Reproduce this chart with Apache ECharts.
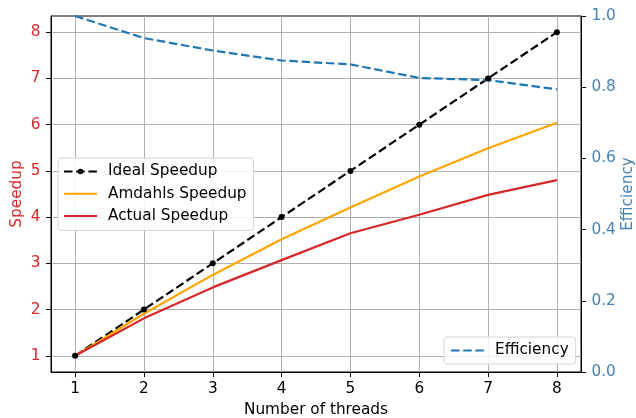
<!DOCTYPE html>
<html>
<head>
<meta charset="utf-8">
<script src="https://cdn.jsdelivr.net/npm/echarts@6/dist/echarts.min.js"></script>
<style>
  html, body { margin: 0; padding: 0; background: #fff; }
  #chart { width: 636px; height: 418px; }
</style>
</head>
<body>
<div id="chart"></div>
<script>
    // 线程数
    const threads = [1, 2, 3, 4, 5, 6, 7, 8];
    // 各条加速比曲线
    const idealSpeedup = [1, 2, 3, 4, 5, 6, 7, 8];
    const amdahlSpeedup = [1, 1.91, 2.75, 3.52, 4.21, 4.88, 5.49, 6.04];
    const actualSpeedup = [1, 1.81, 2.48, 3.07, 3.65, 4.05, 4.48, 4.80];
    // 效率
    const efficiency = [1.0, 0.938, 0.903, 0.875, 0.864, 0.826, 0.820, 0.794];
    // 刻度
    const xTicks = [1, 2, 3, 4, 5, 6, 7, 8];
    const speedupTicks = [1, 2, 3, 4, 5, 6, 7, 8];

    const font = 'DejaVu Sans';
    const fs = 15.3;
    const red = '#d62728';
    const axisBlue = '#4682b4';
    const dash = [8.5, 3.7];
    const lw = 2.2;

    function pairs(ys) {
        return threads.map((x, i) => [x, ys[i]]);
    }

    // 图例公共样式
    const legendBase = {
        orient: 'vertical',
        itemWidth: 33, itemHeight: 7,
        borderColor: '#d5d5d5', borderWidth: 1, borderRadius: 3,
        backgroundColor: 'rgba(255,255,255,0.85)',
        textStyle: { fontFamily: font, fontSize: fs, color: '#000', lineHeight: 18, padding: [0, 0, 0, 6] }
    };
    const noMarker = { opacity: 0 };

    let myChart = echarts.init(document.getElementById('chart'), null, { renderer: 'canvas' });

    let option = {
        animation: false,
        textStyle: { fontFamily: font },
        grid: {
            left: 51, right: 55, top: 16, bottom: 46,
            outerBoundsMode: 'none',
            containLabel: false,
            show: true, borderColor: '#000', borderWidth: 1
        },
        legend: [
            Object.assign({}, legendBase, {
                data: [
                    { name: 'Ideal Speedup' },
                    { name: 'Amdahls Speedup', itemStyle: noMarker },
                    { name: 'Actual Speedup', itemStyle: noMarker }
                ],
                left: 58, top: 158,
                itemGap: 4.2,
                padding: [4.5, 7, 5.5, 5]
            }),
            Object.assign({}, legendBase, {
                data: [{ name: 'Efficiency', itemStyle: noMarker }],
                left: 444, top: 337,
                padding: [4.5, 7, 4.5, 6]
            })
        ],
        xAxis: {
            type: 'value',
            min: 0.65, max: 8.35,
            name: 'Number of threads',
            nameLocation: 'middle',
            nameGap: 30.5,
            nameMoveOverlap: false,
            nameTextStyle: { fontFamily: font, fontSize: fs, color: '#000' },
            axisLine: { show: true, lineStyle: { color: '#000', width: 1 } },
            axisTick: { show: true, length: 5, customValues: xTicks, lineStyle: { color: '#000' } },
            axisLabel: { customValues: xTicks, fontFamily: font, fontSize: fs, color: '#000', margin: 10 },
            splitLine: { show: true, lineStyle: { color: '#b0b0b0', width: 1 } }
        },
        yAxis: [
            {
                type: 'value',
                min: 0.65, max: 8.35,
                name: 'Speedup',
                nameLocation: 'middle',
                nameGap: 26,
                nameMoveOverlap: false,
                nameTextStyle: { fontFamily: font, fontSize: fs, color: red },
                axisLine: { show: true, lineStyle: { color: '#000', width: 1 } },
                axisTick: { show: true, length: 5, customValues: speedupTicks, lineStyle: { color: '#000' } },
                axisLabel: { customValues: speedupTicks, fontFamily: font, fontSize: fs, color: red, margin: 10.5 },
                splitLine: { show: true, lineStyle: { color: '#b0b0b0', width: 1 } }
            },
            {
                type: 'value',
                min: 0, max: 1, interval: 0.2,
                position: 'right',
                name: 'Efficiency',
                nameLocation: 'middle',
                nameGap: 40,
                nameMoveOverlap: false,
                nameTextStyle: { fontFamily: font, fontSize: fs, color: axisBlue },
                axisLine: { show: true, lineStyle: { color: '#000', width: 1 } },
                axisTick: { show: true, length: 5, lineStyle: { color: '#000' } },
                axisLabel: {
                    fontFamily: font, fontSize: fs, color: axisBlue, margin: 10.5,
                    formatter: v => v.toFixed(1)
                },
                splitLine: { show: false }
            }
        ],
        series: [
            {
                name: 'Ideal Speedup',
                type: 'line',
                data: pairs(idealSpeedup),
                symbol: 'circle', symbolSize: 6,
                itemStyle: { color: '#000' },
                lineStyle: { color: '#000', width: lw, type: dash }
            },
            {
                name: 'Amdahls Speedup',
                type: 'line',
                data: pairs(amdahlSpeedup),
                symbol: 'none',
                itemStyle: { color: '#ffa500' },
                lineStyle: { color: '#ffa500', width: lw }
            },
            {
                name: 'Actual Speedup',
                type: 'line',
                data: pairs(actualSpeedup),
                symbol: 'none',
                itemStyle: { color: red },
                lineStyle: { color: red, width: lw }
            },
            {
                name: 'Efficiency',
                type: 'line',
                yAxisIndex: 1,
                data: pairs(efficiency),
                symbol: 'none',
                itemStyle: { color: '#1f77b4' },
                lineStyle: { color: '#1f77b4', width: lw, type: dash }
            }
        ]
    };

    myChart.setOption(option);
</script>
</body>
</html>
